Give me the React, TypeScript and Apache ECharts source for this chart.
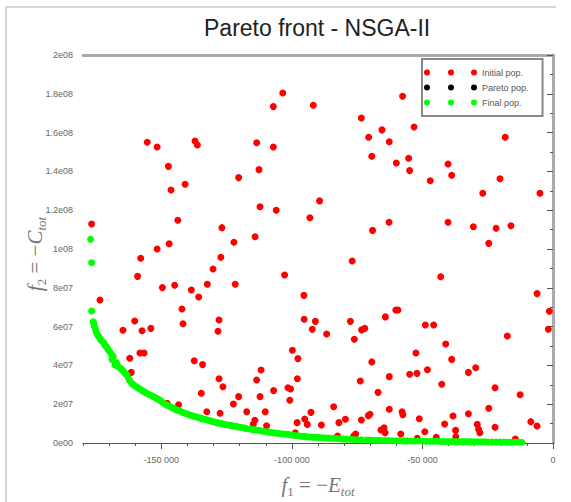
import React, { useEffect, useRef } from 'react';
import * as echarts from 'echarts';

const chartTitle = 'Pareto front - NSGA-II';
const seriesNames = ['Initial pop.', 'Pareto pop.', 'Final pop.'];
const seriesColors = ['#ff0000', '#000000', '#00ff00'];
const xMajorTicks = [-150000, -100000, -50000, 0];

// Initial population  [f1, f2]
const initialPop: [number, number][] = [
  [-176.7e3, 112.9e6], [-155.4e3, 155.0e6], [-151.6e3, 152.6e6], [-147.3e3, 142.6e6],
  [-146.3e3, 130.4e6], [-140.9e3, 133.4e6], [-137.1e3, 155.7e6], [-136.2e3, 153.6e6],
  [-143.7e3, 114.8e6], [-147.0e3, 102.7e6], [-151.6e3, 100.0e6], [-126.8e3, 111.0e6],
  [-122.2e3, 103.5e6], [-120.4e3, 136.8e6], [-114.1e3, 106.3e6], [-113.5e3, 154.8e6],
  [-112.6e3, 140.9e6], [-112.2e3, 121.8e6], [-107.1e3, 173.4e6], [-107.1e3, 152.6e6],
  [-106.0e3, 120.0e6], [-103.5e3, 180.4e6], [-93.1e3, 116.1e6],
  [-91.8e3, 174.1e6], [-89.4e3, 124.8e6], [-73.4e3, 167.5e6], [-70.6e3, 157.6e6],
  [-65.5e3, 161.4e6], [-62.7e3, 155.3e6], [-69.4e3, 147.8e6], [-60.0e3, 144.3e6],
  [-55.3e3, 146.8e6], [-54.9e3, 140.4e6], [-57.6e3, 178.7e6], [-53.2e3, 162.9e6],
  [-47.0e3, 135.2e6], [-40.2e3, 143.8e6], [-38.8e3, 138.0e6], [-26.9e3, 128.7e6],
  [-20.3e3, 136.2e6], [-18.3e3, 157.6e6], [-5.0e3, 128.7e6], [-69.1e3, 109.6e6],
  [-62.8e3, 113.8e6], [-40.2e3, 113.8e6], [-30.5e3, 111.5e6], [-21.8e3, 110.7e6],
  [-16.1e3, 112.0e6], [-24.6e3, 102.9e6],
  [-157.9e3, 95.2e6], [-159.1e3, 85.9e6], [-173.5e3, 73.7e6], [-149.6e3, 80.1e6],
  [-144.9e3, 81.3e6], [-138.5e3, 78.9e6], [-135.7e3, 75.3e6], [-142.1e3, 69.1e6],
  [-141.7e3, 61.5e6], [-132.4e3, 81.8e6], [-130.2e3, 89.7e6], [-127.2e3, 95.7e6],
  [-121.7e3, 81.8e6], [-127.9e3, 63.4e6], [-128.3e3, 57.6e6], [-102.8e3, 86.6e6],
  [-95.4e3, 76.1e6], [-95.3e3, 63.8e6], [-164.7e3, 58.1e6], [-160.2e3, 62.9e6],
  [-157.4e3, 57.9e6], [-154.0e3, 59.1e6], [-158.2e3, 46.4e6], [-156.6e3, 46.4e6],
  [-162.1e3, 43.7e6], [-161.5e3, 36.4e6], [-137.4e3, 42.4e6], [-134.2e3, 40.4e6],
  [-134.7e3, 25.6e6], [-132.6e3, 16.1e6], [-127.9e3, 33.1e6], [-126.4e3, 29.0e6],
  [-127.5e3, 15.3e6], [-122.4e3, 20.1e6], [-120.4e3, 23.9e6], [-147.8e3, 20.5e6],
  [-143.4e3, 19.7e6], [-117.3e3, 16.1e6], [-114.2e3, 11.7e6], [-114.8e3, 9.6e6],
  [-113.5e3, 32.5e6], [-111.8e3, 37.6e6], [-112.2e3, 23.9e6], [-110.2e3, 16.1e6],
  [-109.7e3, 8.9e6], [-107.0e3, 27.0e6], [-101.5e3, 28.5e6], [-100.5e3, 27.8e6],
  [-100.8e3, 22.0e6], [-99.8e3, 47.8e6], [-97.7e3, 43.5e6], [-97.9e3, 33.1e6],
  [-98.0e3, 10.5e6], [-95.1e3, 12.4e6], [-94.1e3, 9.6e6], [-98.7e3, 5.3e6],
  [-76.9e3, 93.8e6], [-43.0e3, 85.7e6], [-6.1e3, 77.0e6], [-1.4e3, 67.9e6],
  [-1.8e3, 58.6e6], [-91.0e3, 62.7e6], [-92.2e3, 58.6e6], [-86.7e3, 56.2e6],
  [-77.6e3, 62.7e6], [-76.1e3, 53.5e6], [-73.3e3, 58.3e6], [-72.1e3, 59.1e6],
  [-64.2e3, 65.0e6], [-60.2e3, 68.6e6], [-59.4e3, 68.6e6], [-48.9e3, 60.8e6],
  [-45.7e3, 60.8e6], [-52.5e3, 46.4e6], [-41.1e3, 51.0e6], [-38.8e3, 43.1e6],
  [-17.5e3, 55.2e6], [-69.4e3, 41.8e6], [-73.8e3, 32.0e6], [-62.7e3, 34.2e6],
  [-67.0e3, 26.1e6], [-54.9e3, 35.4e6], [-52.1e3, 35.9e6], [-48.1e3, 37.8e6],
  [-42.6e3, 30.3e6], [-32.4e3, 36.4e6], [-29.6e3, 38.8e6], [-22.2e3, 28.5e6],
  [-12.6e3, 24.9e6], [-84.0e3, 18.7e6], [-92.7e3, 15.8e6], [-88.7e3, 9.3e6],
  [-82.0e3, 10.5e6], [-79.5e3, 12.2e6], [-73.4e3, 11.9e6], [-70.7e3, 14.1e6],
  [-70.1e3, 14.8e6], [-62.7e3, 17.4e6], [-57.8e3, 16.1e6], [-57.5e3, 14.6e6],
  [-51.2e3, 12.5e6], [-65.9e3, 6.7e6], [-64.7e3, 7.9e6], [-64.3e3, 5.3e6],
  [-58.3e3, 4.6e6], [-49.1e3, 5.8e6], [-41.5e3, 9.8e6], [-38.3e3, 13.9e6],
  [-37.3e3, 6.5e6], [-37.2e3, 3.2e6], [-32.4e3, 15.1e6], [-29.0e3, 9.6e6],
  [-28.5e3, 7.1e6], [-28.0e3, 5.3e6], [-24.6e3, 17.9e6], [-22.2e3, 8.1e6],
  [-8.5e3, 11.0e6], [-6.1e3, 8.8e6], [-82.5e3, 3.6e6], [-76.3e3, 3.6e6],
  [-75.6e3, 4.6e6], [-52.0e3, 2.4e6], [-44.7e3, 2.9e6], [-14.4e3, 2.1e6],
];

// Pareto population (no visible points)
const paretoPop: [number, number][] = [];

// Final population  [f1, f2]
const finalPop: [number, number][] = [
  [-177.1e3, 105.0e6], [-176.7e3, 92.9e6], [-176.7e3, 68.0e6], [-176.1e3, 62.5e6],
  [-175.9e3, 61.8e6], [-175.7e3, 60.3e6], [-175.2e3, 58.5e6], [-174.9e3, 57.0e6],
  [-174.4e3, 55.7e6], [-173.9e3, 54.8e6], [-173.3e3, 53.4e6], [-172.8e3, 52.7e6],
  [-172.0e3, 51.6e6], [-171.7e3, 50.6e6], [-171.3e3, 50.0e6], [-170.8e3, 49.2e6],
  [-170.3e3, 47.9e6], [-169.6e3, 46.8e6], [-169.0e3, 45.3e6], [-168.4e3, 44.5e6],
  [-168.9e3, 43.0e6], [-167.8e3, 40.2e6], [-167.2e3, 41.5e6], [-166.6e3, 39.6e6],
  [-165.8e3, 38.5e6], [-165.2e3, 38.0e6], [-164.6e3, 37.1e6], [-163.9e3, 35.9e6],
  [-163.2e3, 35.0e6], [-162.6e3, 33.4e6], [-162.1e3, 32.1e6], [-161.4e3, 30.8e6],
  [-160.8e3, 30.2e6], [-160.1e3, 29.4e6], [-159.4e3, 28.9e6], [-158.8e3, 28.2e6],
  [-158.1e3, 27.7e6], [-157.4e3, 27.0e6], [-156.6e3, 26.4e6], [-155.6e3, 25.6e6],
  [-154.8e3, 25.0e6], [-154.0e3, 24.6e6], [-153.2e3, 24.0e6], [-152.5e3, 23.5e6],
  [-151.8e3, 23.0e6], [-151.0e3, 22.4e6], [-150.2e3, 21.7e6], [-149.4e3, 20.8e6],
  [-148.7e3, 20.2e6], [-148.0e3, 19.6e6], [-147.2e3, 19.2e6], [-146.4e3, 18.6e6],
  [-145.6e3, 18.0e6], [-144.9e3, 17.5e6], [-144.1e3, 17.0e6], [-143.2e3, 16.6e6],
  [-142.3e3, 16.1e6], [-141.5e3, 15.6e6], [-140.6e3, 15.2e6], [-139.8e3, 14.8e6],
  [-139.0e3, 14.4e6], [-138.1e3, 14.0e6], [-137.2e3, 13.7e6], [-136.4e3, 13.4e6],
  [-135.5e3, 13.0e6], [-134.7e3, 12.7e6], [-133.9e3, 12.4e6], [-133.0e3, 12.1e6],
  [-132.1e3, 11.8e6], [-131.3e3, 11.5e6], [-130.4e3, 11.1e6], [-129.6e3, 10.8e6],
  [-128.8e3, 10.5e6], [-128.0e3, 10.3e6], [-127.1e3, 10.0e6], [-126.2e3, 9.8e6],
  [-125.4e3, 9.5e6], [-124.0e3, 9.2e6], [-123.2e3, 9.0e6], [-122.4e3, 8.8e6],
  [-121.5e3, 8.6e6], [-120.6e3, 8.3e6], [-119.7e3, 8.1e6], [-118.4e3, 7.8e6],
  [-117.5e3, 7.5e6], [-116.0e3, 7.2e6], [-115.0e3, 7.0e6], [-114.1e3, 6.8e6],
  [-113.0e3, 6.6e6], [-112.0e3, 6.3e6], [-111.0e3, 6.1e6], [-109.7e3, 5.8e6],
  [-108.8e3, 5.6e6], [-107.6e3, 5.4e6], [-106.5e3, 5.2e6], [-105.4e3, 5.0e6],
  [-104.2e3, 4.8e6], [-103.1e3, 4.6e6], [-102.0e3, 4.5e6], [-101.0e3, 4.3e6],
  [-99.9e3, 4.1e6], [-98.7e3, 3.9e6], [-97.6e3, 3.7e6], [-96.4e3, 3.5e6],
  [-95.3e3, 3.4e6], [-94.3e3, 3.2e6], [-93.0e3, 3.1e6], [-91.8e3, 3.0e6],
  [-90.6e3, 2.9e6], [-89.4e3, 2.8e6], [-88.0e3, 2.7e6], [-86.8e3, 2.6e6],
  [-85.6e3, 2.5e6], [-84.3e3, 2.4e6], [-83.0e3, 2.3e6], [-81.7e3, 2.2e6],
  [-80.3e3, 2.1e6], [-79.0e3, 2.0e6], [-77.6e3, 1.9e6], [-76.2e3, 1.8e6],
  [-74.8e3, 1.7e6], [-73.4e3, 1.6e6], [-71.4e3, 1.5e6], [-70.0e3, 1.5e6],
  [-68.6e3, 1.4e6], [-67.2e3, 1.4e6], [-65.8e3, 1.3e6], [-64.4e3, 1.3e6],
  [-63.0e3, 1.3e6], [-61.5e3, 1.2e6], [-60.1e3, 1.2e6], [-58.6e3, 1.2e6],
  [-57.2e3, 1.1e6], [-55.8e3, 1.1e6], [-54.3e3, 1.0e6], [-52.9e3, 1.0e6],
  [-51.5e3, 1.0e6], [-50.0e3, 1.0e6], [-48.6e3, 0.9e6], [-47.2e3, 0.9e6],
  [-45.8e3, 0.9e6], [-44.4e3, 0.9e6], [-43.0e3, 0.8e6], [-41.6e3, 0.8e6],
  [-40.2e3, 0.8e6], [-38.8e3, 0.8e6], [-37.4e3, 0.8e6], [-36.0e3, 0.7e6],
  [-34.6e3, 0.7e6], [-33.1e3, 0.7e6], [-31.7e3, 0.7e6], [-30.3e3, 0.6e6],
  [-28.9e3, 0.6e6], [-27.5e3, 0.6e6], [-26.1e3, 0.6e6], [-24.7e3, 0.5e6],
  [-23.3e3, 0.5e6], [-21.8e3, 0.5e6], [-20.3e3, 0.5e6], [-18.9e3, 0.5e6],
  [-17.5e3, 0.4e6], [-16.1e3, 0.4e6], [-14.7e3, 0.4e6], [-13.3e3, 0.4e6],
  [-12.0e3, 0.4e6],
];

const fmtX = (v: number) => {
  if (v === 0) return '0';
  const s = Math.abs(v).toString().replace(/\B(?=(\d{3})+(?!\d))/g, ' ');
  return (v < 0 ? '-' : '') + s;
};

const fmtY = (v: number) => {
  if (v === 0) return '0e00';
  const e = Math.floor(Math.log10(v) + 1e-9);
  const m = Math.round((v / Math.pow(10, e)) * 10) / 10;
  return String(m) + 'e' + String(e).padStart(2, '0');
};

const dotsIcon =
  'path://M0,3A3,3 0 1,1 6,3A3,3 0 1,1 0,3ZM24,3A3,3 0 1,1 30,3A3,3 0 1,1 24,3ZM47,3A3,3 0 1,1 53,3A3,3 0 1,1 47,3Z';

const serif = "'Liberation Serif', 'DejaVu Serif', serif";
const sans = "'Liberation Sans', Arial, sans-serif";

const mathRich = {
  i: { fontFamily: serif, fontStyle: 'italic', fontSize: 21, lineHeight: 26, fill: '#777' },
  n: { fontFamily: serif, fontSize: 21, lineHeight: 26, fill: '#777' },
  s: { fontFamily: serif, fontSize: 13, lineHeight: 14, verticalAlign: 'bottom', fill: '#777' },
  si: { fontFamily: serif, fontStyle: 'italic', fontSize: 13, lineHeight: 14, verticalAlign: 'bottom', fill: '#777' },
};

export default function App() {
  const ref = useRef<HTMLDivElement>(null);

  useEffect(() => {
    if (!ref.current) return;
    const chart = echarts.init(ref.current, undefined, { renderer: 'svg' });
    const hiddenAxis = {
      axisTick: { show: false },
      axisLabel: { show: false },
      splitLine: { show: false },
    };
    const option: any = {
      animation: false,
      backgroundColor: '#fff',
      title: {
        text: chartTitle,
        left: 204,
        top: 16,
        padding: 0,
        textStyle: { fontFamily: sans, fontSize: 23, fontWeight: 'normal', color: '#222' },
      },
      grid: { left: 83, right: 18, top: 55, bottom: 59, containLabel: false },
      legend: {
        orient: 'vertical',
        left: 422,
        top: 59,
        padding: [9, 14, 9, 2],
        itemGap: 6,
        itemWidth: 53,
        itemHeight: 6,
        borderColor: '#888',
        borderWidth: 2,
        backgroundColor: '#fff',
        selectedMode: false,
        textStyle: { fontFamily: sans, fontSize: 9, color: '#555' },
        data: seriesNames.map((n) => ({ name: n, icon: dotsIcon })),
      },
      xAxis: [
        {
          type: 'value',
          position: 'bottom',
          min: -180000,
          max: 0,
          axisLine: { show: true, lineStyle: { color: '#555', width: 1 } },
          axisTick: { show: true, customValues: xMajorTicks, length: 6, lineStyle: { color: '#555' } },
          axisLabel: {
            customValues: xMajorTicks,
            formatter: fmtX,
            fontFamily: sans,
            fontSize: 9,
            color: '#666',
            margin: 12,
          },
          splitLine: { show: false },
        },
        {
          type: 'value',
          position: 'bottom',
          min: -180000,
          max: 0,
          interval: 10000,
          axisLine: { show: false },
          axisTick: { show: true, length: 3, lineStyle: { color: '#555' } },
          axisLabel: { show: false },
          splitLine: { show: false },
        },
        {
          type: 'value',
          position: 'top',
          min: -180000,
          max: 0,
          axisLine: { show: true, lineStyle: { color: '#aaa', width: 3 } },
          ...hiddenAxis,
        },
      ],
      yAxis: [
        {
          type: 'value',
          position: 'left',
          min: 0,
          max: 2e8,
          interval: 2e7,
          axisLine: { show: true, lineStyle: { color: '#555', width: 1 } },
          axisTick: { show: true, length: 6, lineStyle: { color: '#555' } },
          minorTick: { show: true, splitNumber: 2, length: 3, lineStyle: { color: '#555' } },
          axisLabel: { formatter: fmtY, fontFamily: sans, fontSize: 9, color: '#666', margin: 10 },
          splitLine: { show: false },
          minorSplitLine: { show: false },
        },
        {
          type: 'value',
          position: 'right',
          min: 0,
          max: 2e8,
          axisLine: { show: true, lineStyle: { color: '#aaa', width: 3 } },
          ...hiddenAxis,
        },
      ],
      series: [
        {
          name: seriesNames[0],
          type: 'scatter',
          data: initialPop,
          symbol: 'circle',
          symbolSize: 7,
          itemStyle: { color: seriesColors[0], opacity: 1 },
          z: 3,
        },
        {
          name: seriesNames[1],
          type: 'scatter',
          data: paretoPop,
          symbol: 'circle',
          symbolSize: 7,
          itemStyle: { color: seriesColors[1], opacity: 1 },
          z: 4,
        },
        {
          name: seriesNames[2],
          type: 'scatter',
          data: finalPop,
          symbol: 'circle',
          symbolSize: 7,
          itemStyle: { color: seriesColors[2], opacity: 1 },
          z: 5,
        },
      ],
      graphic: [
        { type: 'line', silent: true, shape: { x1: 6, y1: 7, x2: 556, y2: 7 }, style: { stroke: '#d4d4d4', lineWidth: 2 } },
        { type: 'line', silent: true, shape: { x1: 6, y1: 7, x2: 6, y2: 502 }, style: { stroke: '#d4d4d4', lineWidth: 2 } },
        {
          type: 'text',
          silent: true,
          x: 318,
          y: 485,
          style: {
            text: '{i|f}{s|1}{n| = −}{i|E}{si|tot}',
            rich: mathRich,
            align: 'center',
            verticalAlign: 'middle',
            fill: '#777',
          },
        },
        {
          type: 'text',
          silent: true,
          x: 35,
          y: 254,
          rotation: Math.PI / 2,
          style: {
            text: '{i|f}{s|2}{n| = −}{i|C}{si|tot}',
            rich: mathRich,
            align: 'center',
            verticalAlign: 'middle',
            fill: '#777',
          },
        },
      ],
    };
    chart.setOption(option);
    return () => chart.dispose();
  }, []);

  return (
    <div
      ref={ref}
      style={{ position: 'fixed', left: 0, top: 0, width: 571, height: 502, background: '#fff' }}
    />
  );
}
